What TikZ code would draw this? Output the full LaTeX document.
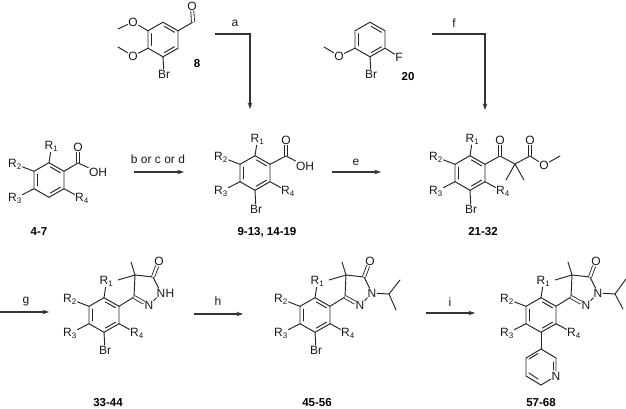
\documentclass[tikz,border=0pt]{standalone}
\usepackage{fontspec}
\setmainfont{Liberation Sans}
\usetikzlibrary{arrows.meta,positioning}
\tikzstyle{bond}=[draw,line width=0.95pt,color=black!85,line cap=round]
\tikzstyle{dbond}=[draw,color=black!85,double,double distance=2.2pt,line width=0.85pt]
\tikzstyle{arrow}=[draw,-{Stealth[length=6.5pt,width=4.5pt]},line width=1.05pt,color=black!80]
\tikzstyle{atom}=[inner sep=0.5pt,font=\fontsize{12}{12}\selectfont,color=black!90]
\tikzstyle{cmpd}=[inner sep=0pt,font=\fontsize{11.5}{11.5}\selectfont\bfseries]
\tikzstyle{reagent}=[inner sep=0pt,font=\fontsize{12}{12}\selectfont,color=black!90]
% ring with its six corners a..f, clockwise from the top
\newcommand{\ringat}[3]{
  \coordinate (#1a) at (#2,#3-17.3);
  \coordinate (#1b) at (#2+15,#3-8.7);
  \coordinate (#1c) at (#2+15,#3+8.7);
  \coordinate (#1d) at (#2,#3+17.3);
  \coordinate (#1e) at (#2-15,#3+8.7);
  \coordinate (#1f) at (#2-15,#3-8.7);
  \draw [bond] (#1a) -- (#1b) -- (#1c) -- (#1d) -- (#1e) -- (#1f) -- cycle;
  \draw [bond] (#2+1.5,#3-13) -- (#2+11.5,#3-7.2);
  \draw [bond] (#2+1.5,#3+13) -- (#2+11.5,#3+7.2);
  \draw [bond] (#2-11.7,#3-6) -- (#2-11.7,#3+6);
}
% R1 to R4 round a ring
\newcommand{\rgroups}[3]{
  \node [atom] (#1r1) at (#2+2.5,#3-33.5) {R\textsubscript{1}};
  \node [atom] (#1r2) at (#2-34,#3-16) {R\textsubscript{2}};
  \node [atom] (#1r3) at (#2-34,#3+18.5) {R\textsubscript{3}};
  \node [atom] (#1r4) at (#2+33,#3+18.5) {R\textsubscript{4}};
  \draw [bond] (#1a) -- (#1r1);
  \draw [bond] (#1f) -- (#1r2);
  \draw [bond] (#1e) -- (#1r3);
  \draw [bond] (#1c) -- (#1r4);
}
% five-membered ring on corner b
\newcommand{\lactam}[3]{
  \coordinate (#1g) at (#2+30,#3-18);
  \coordinate (#1h) at (#2+31,#3-40);
  \coordinate (#1i) at (#2+49,#3-38);
  \node [atom] (#1n) at (#2+45,#3-9.5) {N};
  \node [atom] (#1m) at (#2+57,#3-22) {N};
  \node [atom] (#1o) at (#2+55,#3-54) {O};
  \coordinate (#1p) at (#2+27,#3-53);
  \coordinate (#1q) at (#2+14,#3-35);
  \draw [bond] (#1b) -- (#1g);
  \draw [bond] (#1g) -- (#1h) -- (#1i);
  \draw [bond] (#1h) -- (#1p);
  \draw [bond] (#1h) -- (#1q);
  \draw [bond] (#1i) -- (#1m);
  \draw [bond] (#1m) -- (#1n);
  \draw [dbond] (#1g) -- (#1n);
  \draw [dbond] (#1i) -- (#1o);
}
\begin{document}
\begin{tikzpicture}[x=1pt,y=-1pt]
  \useasboundingbox (0,0) rectangle (626,409);

  % aldehyde 8
  \ringat{s}{163}{39.5}
  \node [atom] (so1) at (133,22) {O};
  \node [atom] (so2) at (133,56) {O};
  \node [atom] (sbr) at (164,74) {Br};
  \node [atom] (so3) at (192,6) {O};
  \coordinate (sm1) at (118,29);
  \coordinate (sm2) at (118,47);
  \coordinate (scho) at (193,22);
  \draw [bond] (sf) -- (so1);
  \draw [bond] (so1) -- (sm1);
  \draw [bond] (se) -- (so2);
  \draw [bond] (so2) -- (sm2);
  \draw [bond] (sd) -- (sbr);
  \draw [bond] (sb) -- (scho);
  \draw [dbond] (scho) -- (so3);
  \node [cmpd] (n8) at (197,64) {8};

  % anisole 20
  \ringat{t}{370}{39.5}
  \node [atom] (to) at (339,56) {O};
  \node [atom] (tbr) at (371,74) {Br};
  \node [atom] (tf) at (399,57) {F};
  \coordinate (tm) at (324,47);
  \draw [bond] (te) -- (to);
  \draw [bond] (to) -- (tm);
  \draw [bond] (td) -- (tbr);
  \draw [bond] (tc) -- (tf);
  \node [cmpd] (n20) at (408,77) {20};

  % acid 4-7
  \ringat{a}{49}{180}
  \rgroups{a}{49}{180}
  \coordinate (ac) at (78,163);
  \node [atom] (ao) at (78,147) {O};
  \node [atom] (aoh) at (98,172) {OH};
  \draw [bond] (ab) -- (ac);
  \draw [dbond] (ac) -- (ao);
  \draw [bond] (ac) -- (aoh);
  \node [cmpd] (n47) at (39,232) {4-7};

  % bromo acid
  \ringat{b}{255}{173}
  \rgroups{b}{255}{173}
  \node [atom] (bbr) at (256,209) {Br};
  \coordinate (bc) at (286,156);
  \node [atom] (bo) at (286,140) {O};
  \node [atom] (boh) at (305,166) {OH};
  \draw [bond] (bd) -- (bbr);
  \draw [bond] (bb) -- (bc);
  \draw [dbond] (bc) -- (bo);
  \draw [bond] (bc) -- (boh);
  \node [cmpd] (n913) at (267,232) {9-13, 14-19};

  % keto ester
  \ringat{c}{470}{173}
  \rgroups{c}{470}{173}
  \node [atom] (cbr) at (471,209) {Br};
  \coordinate (cc) at (500,156);
  \coordinate (cq) at (515,164);
  \coordinate (cm1) at (506,180);
  \coordinate (cm2) at (524,180);
  \coordinate (ce) at (530,156);
  \coordinate (cm3) at (560,156);
  \node [atom] (co1) at (500,140) {O};
  \node [atom] (co2) at (530,140) {O};
  \node [atom] (co3) at (544,165) {O};
  \draw [bond] (cd) -- (cbr);
  \draw [bond] (cb) -- (cc) -- (cq) -- (ce);
  \draw [bond] (cq) -- (cm1);
  \draw [bond] (cq) -- (cm2);
  \draw [dbond] (cc) -- (co1);
  \draw [dbond] (ce) -- (co2);
  \draw [bond] (ce) -- (co3);
  \draw [bond] (co3) -- (cm3);
  \node [cmpd] (n2132) at (483,232) {21-32};

  % NH lactam
  \ringat{d}{104}{315}
  \rgroups{d}{104}{315}
  \lactam{d}{104}{315}
  \node [atom, right=-1.2pt of dm] (dh) {H};
  \node [atom] (dbr) at (105,350) {Br};
  \draw [bond] (dd) -- (dbr);
  \node [cmpd] (n3344) at (108,402.5) {33-44};

  % N-isopropyl lactam
  \ringat{e}{315}{315}
  \rgroups{e}{315}{315}
  \lactam{e}{315}{315}
  \node [atom] (ebr) at (316,350) {Br};
  \coordinate (ei) at (389,294);
  \coordinate (ei1) at (400,280);
  \coordinate (ei2) at (396,310);
  \draw [bond] (ed) -- (ebr);
  \draw [bond] (em) -- (ei);
  \draw [bond] (ei1) -- (ei) -- (ei2);
  \node [cmpd] (n4556) at (317,402.5) {45-56};

  % pyridyl product
  \ringat{f}{541}{315}
  \rgroups{f}{541}{315}
  \lactam{f}{541}{315}
  \coordinate (fi) at (615,294);
  \coordinate (fi1) at (626,279);
  \coordinate (fi2) at (623,309);
  \draw [bond] (fm) -- (fi);
  \draw [bond] (fi1) -- (fi) -- (fi2);
  \coordinate (pa) at (541,349);
  \coordinate (pb) at (556,358);
  \node [atom] (pn) at (556,376) {N};
  \coordinate (pd) at (541,385);
  \coordinate (pe) at (526,376);
  \coordinate (pf) at (526,358);
  \draw [bond] (fd) -- (pa);
  \draw [bond] (pb) -- (pa) -- (pf) -- (pe) -- (pd);
  \draw [bond] (pd) -- (pn) -- (pb);
  \draw [bond] (538,353.5) -- (529,359);
  \draw [bond] (529,373) -- (538,379);
  \draw [bond] (553,362) -- (553,370);
  \node [cmpd] (n5768) at (541,402.5) {57-68};

  % arrows
  \coordinate (a0) at (215,34);
  \coordinate (a1) at (250,34);
  \coordinate (a2) at (250,109);
  \draw [arrow] (a0) -- (a1) -- (a2);
  \node [reagent] (la) at (235,23) {a};

  \coordinate (f0) at (432,34);
  \coordinate (f1) at (485,34);
  \coordinate (f2) at (485,110);
  \draw [arrow] (f0) -- (f1) -- (f2);
  \node [reagent] (lf) at (454,23) {f};

  \coordinate (b0) at (134,172);
  \coordinate (b1) at (184,172);
  \draw [arrow] (b0) -- (b1);
  \node [reagent] (lb) at (158,159) {b or c or d};

  \coordinate (e0) at (332,172);
  \coordinate (e1) at (381,172);
  \draw [arrow] (e0) -- (e1);
  \node [reagent] (le) at (356,162) {e};

  \coordinate (g0) at (0,312);
  \coordinate (g1) at (49,312);
  \draw [arrow] (g0) -- (g1);
  \node [reagent] (lg) at (26,302) {g};

  \coordinate (h0) at (194,314);
  \coordinate (h1) at (243,314);
  \draw [arrow] (h0) -- (h1);
  \node [reagent] (lh) at (218,301) {h};

  \coordinate (i0) at (426,313);
  \coordinate (i1) at (475,313);
  \draw [arrow] (i0) -- (i1);
  \node [reagent] (li) at (450,302) {i};
\end{tikzpicture}
\end{document}
